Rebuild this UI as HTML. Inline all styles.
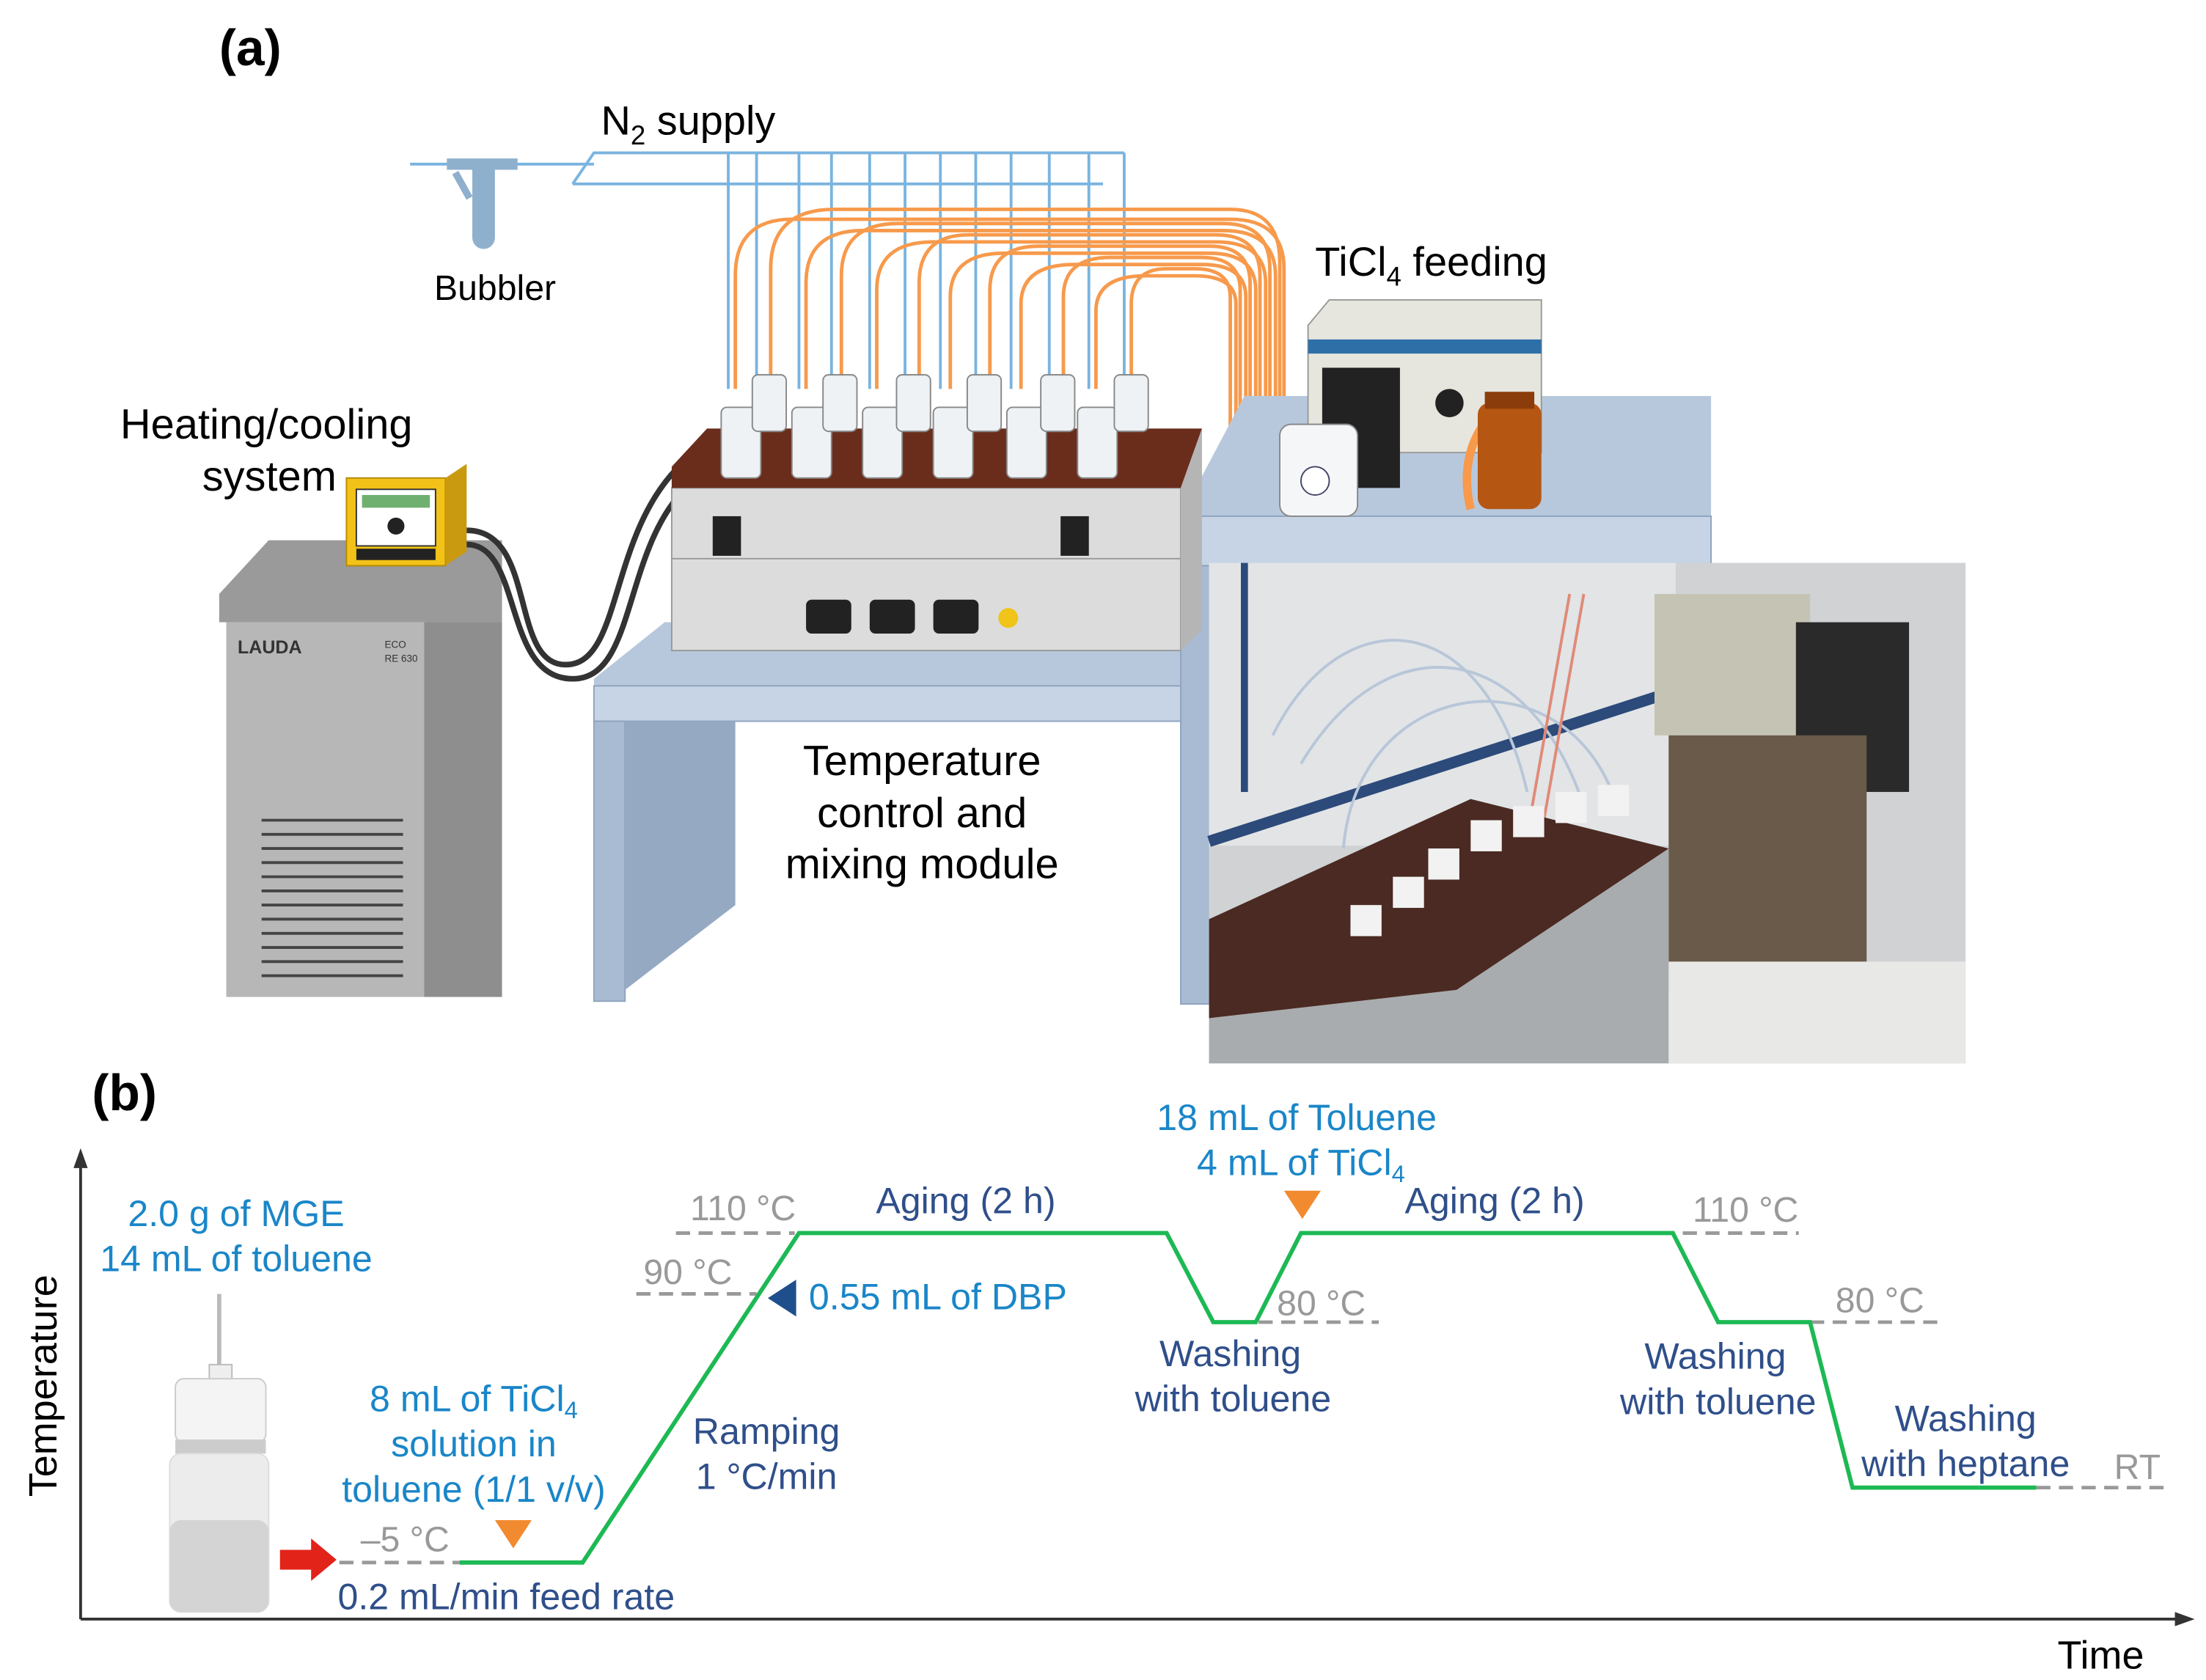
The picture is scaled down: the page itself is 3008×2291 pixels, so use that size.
<!DOCTYPE html>
<html><head><meta charset="utf-8"><style>
html,body{margin:0;padding:0;background:#fff}
svg{display:block}
text{font-family:"Liberation Sans",sans-serif}
</style></head><body>
<svg width="3008" height="2291" viewBox="0 0 1560 1188" xmlns="http://www.w3.org/2000/svg">
<rect width="1560" height="1188" fill="#fff"/>
<text x="155" y="46" font-size="36" font-weight="bold">(a)</text>

<g stroke="#7ab4e0" stroke-width="2" fill="none">
<line x1="290" y1="116" x2="420" y2="116"/>
<polyline points="405,130 420,108 795,108"/>
<line x1="405" y1="130" x2="780" y2="130"/>
<line x1="515" y1="108" x2="515" y2="275"/><line x1="535" y1="108" x2="535" y2="265"/>
<line x1="565" y1="108" x2="565" y2="275"/><line x1="588" y1="108" x2="588" y2="265"/>
<line x1="615" y1="108" x2="615" y2="275"/><line x1="640" y1="108" x2="640" y2="265"/>
<line x1="665" y1="108" x2="665" y2="275"/><line x1="690" y1="108" x2="690" y2="265"/>
<line x1="715" y1="108" x2="715" y2="275"/><line x1="742" y1="108" x2="742" y2="265"/>
<line x1="770" y1="108" x2="770" y2="275"/><line x1="795" y1="108" x2="795" y2="265"/>
</g>
<text x="425" y="95" font-size="29">N<tspan font-size="19" dy="7">2</tspan><tspan dy="-7"> supply</tspan></text>
<rect x="316" y="112" width="50" height="8" fill="#8fb0cc"/>
<path d="M334,118 h16 v50 a8,8 0 0 1 -16,0z" fill="#8fb0cc"/>
<path d="M322,122 l10,18" stroke="#8fb0cc" stroke-width="5"/>
<text x="307" y="212" font-size="25">Bubbler</text>

<g stroke="#f79a4c" stroke-width="2.5" fill="none">
<path d="M545,270 V190 Q545,148 590,148 H870 Q905,148 905,185 V300"/>
<path d="M595,270 V195 Q595,158 635,158 H865 Q898,158 898,190 V305"/>
<path d="M650,270 V200 Q650,166 685,166 H860 Q891,166 891,195 V310"/>
<path d="M700,270 V205 Q700,174 735,174 H855 Q884,174 884,200 V315"/>
<path d="M752,270 V210 Q752,182 785,182 H850 Q877,182 877,205 V320"/>
<path d="M800,270 V215 Q800,190 825,190 H845 Q870,190 870,210 V325"/>
<path d="M520,275 V195 Q520,155 560,155 H870 Q908,155 908,190 V300"/>
<path d="M570,275 V200 Q570,163 610,163 H865 Q902,163 902,195 V305"/>
<path d="M620,275 V205 Q620,171 660,171 H860 Q895,171 895,200 V310"/>
<path d="M672,275 V210 Q672,179 710,179 H855 Q888,179 888,205 V315"/>
<path d="M722,275 V215 Q722,187 760,187 H850 Q881,187 881,210 V320"/>
<path d="M775,275 V220 Q775,195 810,195 H845 Q874,195 874,215 V325"/>
</g>

<polygon points="420,480 470,440 840,440 840,510 420,510" fill="#b8c8dc"/>
<rect x="420" y="485" width="420" height="25" fill="#c6d4e6" stroke="#8fa3bd"/>
<rect x="420" y="510" width="22" height="198" fill="#a9bbd2" stroke="#8fa3bd"/>
<polygon points="442,510 520,510 520,640 442,700" fill="#95a9c3"/>
<polygon points="835,365 880,280 1210,280 1210,400 835,400" fill="#b8c8dc"/>
<rect x="835" y="365" width="375" height="35" fill="#c6d4e6" stroke="#8fa3bd"/>
<rect x="835" y="400" width="22" height="310" fill="#a9bbd2" stroke="#8fa3bd"/>

<rect x="160" y="440" width="195" height="265" fill="#b7b7b7"/>
<rect x="300" y="440" width="55" height="265" fill="#8e8e8e"/>
<polygon points="155,420 190,382 355,382 355,440 155,440" fill="#9a9a9a"/>
<text x="168" y="462" font-size="13" font-weight="bold" fill="#333">LAUDA</text>
<text x="272" y="458" font-size="7" fill="#333">ECO</text>
<text x="272" y="468" font-size="7" fill="#333">RE 630</text>
<g stroke="#444" stroke-width="2">
<line x1="185" y1="580" x2="285" y2="580"/><line x1="185" y1="590" x2="285" y2="590"/><line x1="185" y1="600" x2="285" y2="600"/><line x1="185" y1="610" x2="285" y2="610"/><line x1="185" y1="620" x2="285" y2="620"/><line x1="185" y1="630" x2="285" y2="630"/><line x1="185" y1="640" x2="285" y2="640"/><line x1="185" y1="650" x2="285" y2="650"/><line x1="185" y1="660" x2="285" y2="660"/><line x1="185" y1="670" x2="285" y2="670"/><line x1="185" y1="680" x2="285" y2="680"/><line x1="185" y1="690" x2="285" y2="690"/>
</g>
<rect x="245" y="338" width="70" height="62" fill="#f2c218" stroke="#b88a00"/>
<polygon points="315,338 330,328 330,390 315,400" fill="#c99a10"/>
<rect x="252" y="346" width="56" height="40" fill="#fff" stroke="#333"/>
<rect x="256" y="350" width="48" height="9" fill="#6fb070"/>
<circle cx="280" cy="372" r="6" fill="#222"/>
<rect x="252" y="388" width="56" height="8" fill="#222"/>
<text x="85" y="310" font-size="30">Heating/cooling</text>
<text x="143" y="347" font-size="30">system</text>
<g stroke="#333" stroke-width="4" fill="none">
<path d="M330,375 C380,375 360,470 400,470 C440,470 430,380 480,330"/>
<path d="M330,385 C370,385 355,480 405,480 C450,480 440,390 485,345"/>
</g>

<rect x="475" y="345" width="360" height="115" fill="#dcdcdc" stroke="#999"/>
<line x1="475" y1="395" x2="835" y2="395" stroke="#999"/>
<polygon points="475,330 500,303 850,303 835,345 475,345" fill="#6a2d1c"/>
<polygon points="835,345 850,303 850,445 835,460" fill="#b5b5b5"/>
<rect x="504" y="365" width="20" height="28" fill="#222"/><rect x="750" y="365" width="20" height="28" fill="#222"/>
<rect x="570" y="424" width="32" height="24" rx="4" fill="#222"/><rect x="615" y="424" width="32" height="24" rx="4" fill="#222"/><rect x="660" y="424" width="32" height="24" rx="4" fill="#222"/>
<circle cx="713" cy="437" r="7" fill="#f0c419"/>
<g fill="#eef2f5" stroke="#888" stroke-width="1">
<rect x="510" y="288" width="28" height="50" rx="4"/><rect x="560" y="288" width="28" height="50" rx="4"/><rect x="610" y="288" width="28" height="50" rx="4"/><rect x="660" y="288" width="28" height="50" rx="4"/><rect x="712" y="288" width="28" height="50" rx="4"/><rect x="762" y="288" width="28" height="50" rx="4"/>
<rect x="532" y="265" width="24" height="40" rx="4"/><rect x="582" y="265" width="24" height="40" rx="4"/><rect x="634" y="265" width="24" height="40" rx="4"/><rect x="684" y="265" width="24" height="40" rx="4"/><rect x="736" y="265" width="24" height="40" rx="4"/><rect x="788" y="265" width="24" height="40" rx="4"/>
</g>
<text x="652" y="548" font-size="30" text-anchor="middle">Temperature</text>
<text x="652" y="585" font-size="30" text-anchor="middle">control and</text>
<text x="652" y="621" font-size="30" text-anchor="middle">mixing module</text>

<polygon points="925,230 940,212 1090,212 1090,320 925,320" fill="#e6e6de" stroke="#999"/>
<rect x="925" y="240" width="165" height="10" fill="#2f6fa8"/>
<circle cx="1025" cy="285" r="10" fill="#222"/>
<rect x="935" y="260" width="55" height="85" fill="#222"/>
<rect x="905" y="300" width="55" height="65" rx="8" fill="#f4f6f8" stroke="#888"/>
<circle cx="930" cy="340" r="10" fill="#fff" stroke="#446"/>
<path d="M1040,360 C1030,320 1050,290 1070,285" stroke="#f79a4c" stroke-width="6" fill="none"/>
<rect x="1045" y="285" width="45" height="75" rx="8" fill="#b55612"/>
<rect x="1050" y="277" width="35" height="12" fill="#8a3d0a"/>
<text x="930" y="195" font-size="29">TiCl<tspan font-size="19" dy="7">4</tspan><tspan dy="-7"> feeding</tspan></text>

<rect x="855" y="398" width="535" height="354" fill="#d0d2d4"/>
<rect x="855" y="398" width="330" height="200" fill="#e2e4e6"/>
<line x1="855" y1="595" x2="1180" y2="490" stroke="#2c4a7a" stroke-width="8"/>
<line x1="880" y1="398" x2="880" y2="560" stroke="#2c4a7a" stroke-width="5"/>
<g stroke="#b8c6d8" stroke-width="2" fill="none">
<path d="M900,520 C950,420 1050,430 1080,560"/><path d="M920,540 C980,440 1080,450 1120,570"/><path d="M950,600 C960,480 1100,460 1140,560"/>
</g>
<g stroke="#e08a78" stroke-width="2"><line x1="1110" y1="420" x2="1080" y2="590"/><line x1="1120" y1="420" x2="1090" y2="590"/></g>
<rect x="1170" y="420" width="110" height="100" fill="#c5c4b4"/>
<rect x="1270" y="440" width="80" height="120" fill="#2a2a2a"/>
<rect x="1180" y="520" width="140" height="180" fill="#6a5a4a"/>
<polygon points="855,670 1050,570 1180,600 1180,752 855,752" fill="#a9acae"/>
<polygon points="855,650 1040,565 1180,600 1030,700 855,720" fill="#4a2a22"/>
<rect x="1180" y="680" width="210" height="72" fill="#e8e8e6"/>
<g fill="#f2f2f2">
<rect x="955" y="640" width="22" height="22"/><rect x="985" y="620" width="22" height="22"/><rect x="1010" y="600" width="22" height="22"/><rect x="1040" y="580" width="22" height="22"/><rect x="1070" y="570" width="22" height="22"/><rect x="1100" y="560" width="22" height="22"/><rect x="1130" y="555" width="22" height="22"/>
</g>

<text x="65" y="785" font-size="36" font-weight="bold">(b)</text>
<g stroke="#333" stroke-width="2"><line x1="57" y1="1145" x2="57" y2="822"/><line x1="57" y1="1145" x2="1545" y2="1145"/></g>
<polygon points="57,812 52,826 62,826" fill="#333"/><polygon points="1552,1145 1538,1140 1538,1150" fill="#333"/>
<text x="40" y="980" font-size="28" transform="rotate(-90 40 980)" text-anchor="middle">Temperature</text>
<text x="1455" y="1180" font-size="28">Time</text>

<g stroke="#999" stroke-width="2.5" stroke-dasharray="10,6" fill="none">
<line x1="240" y1="1105" x2="325" y2="1105"/><line x1="478" y1="872" x2="562" y2="872"/><line x1="450" y1="915" x2="535" y2="915"/>
<line x1="890" y1="935" x2="975" y2="935"/><line x1="1190" y1="872" x2="1272" y2="872"/><line x1="1280" y1="935" x2="1370" y2="935"/><line x1="1440" y1="1052" x2="1530" y2="1052"/>
</g>
<polyline points="325,1105 412,1105 565,872 825,872 858,935 888,935 920,872 1183,872 1215,935 1280,935 1310,1052 1440,1052" fill="none" stroke="#1db954" stroke-width="3"/>

<g font-size="25" fill="#999">
<text x="488" y="863">110 °C</text><text x="455" y="908">90 °C</text><text x="255" y="1097">–5 °C</text>
<text x="903" y="930">80 °C</text><text x="1197" y="864">110 °C</text><text x="1298" y="928">80 °C</text><text x="1495" y="1046">RT</text>
</g>
<g font-size="26" fill="#1a86c8" text-anchor="middle">
<text x="167" y="867">2.0 g of MGE</text><text x="167" y="899">14 mL of toluene</text>
<text x="335" y="998">8 mL of TiCl<tspan font-size="17" dy="5">4</tspan></text>
<text x="335" y="1030">solution in</text><text x="335" y="1062">toluene (1/1 v/v)</text>
<text x="917" y="799">18 mL of Toluene</text>
<text x="920" y="831">4 mL of TiCl<tspan font-size="17" dy="5">4</tspan></text>
</g>
<text x="572" y="926" font-size="26" fill="#1a86c8">0.55 mL of DBP</text>
<g font-size="26" fill="#2f4f8a" text-anchor="middle">
<text x="358" y="1138">0.2 mL/min feed rate</text>
<text x="683" y="858">Aging (2 h)</text><text x="1057" y="858">Aging (2 h)</text>
<text x="542" y="1021">Ramping</text><text x="542" y="1053">1 °C/min</text>
<text x="870" y="966">Washing</text><text x="872" y="998">with toluene</text>
<text x="1213" y="968">Washing</text><text x="1215" y="1000">with toluene</text>
<text x="1390" y="1012">Washing</text><text x="1390" y="1044">with heptane</text>
</g>
<polygon points="350,1075 376,1075 363,1095" fill="#f28a30"/>
<polygon points="908,842 934,842 921,862" fill="#f28a30"/>
<polygon points="543,918 563,905 563,931" fill="#1f4e8c"/>
<polygon points="198,1096 220,1096 220,1088 238,1103 220,1118 220,1110 198,1110" fill="#e2231a"/>

<line x1="155" y1="915" x2="155" y2="968" stroke="#bbb" stroke-width="3"/>
<rect x="148" y="965" width="16" height="12" fill="#eee" stroke="#bbb"/>
<rect x="124" y="975" width="64" height="45" rx="6" fill="#f4f4f4" stroke="#ccc"/>
<rect x="124" y="1018" width="64" height="10" fill="#ccc"/>
<rect x="120" y="1028" width="70" height="112" rx="8" fill="#ececec" stroke="#ddd"/>
<rect x="120" y="1075" width="70" height="65" rx="8" fill="#d4d4d4"/>
</svg>
</body></html>
